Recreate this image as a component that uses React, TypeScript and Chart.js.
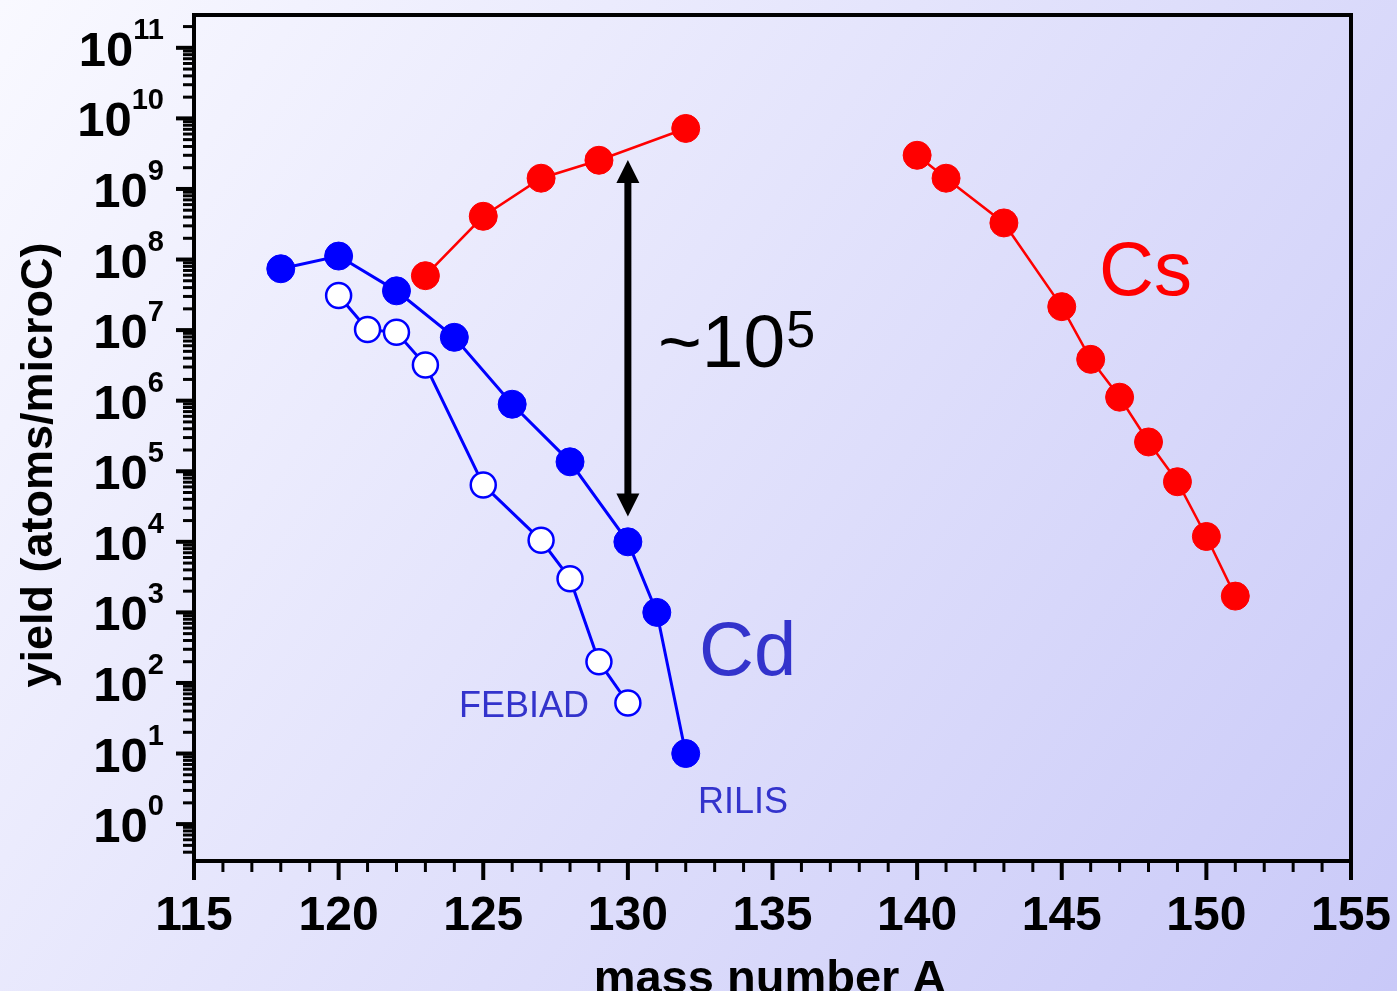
import React, { useEffect, useRef } from "react";
import { Chart, registerables } from "chart.js";

Chart.register(...registerables);

// ---- data ----
const massRilis = [118, 120, 122, 124, 126, 128, 130, 131, 132];
const yieldRilis = [7.4e7, 1.12e8, 3.6e7, 7.9e6, 8.9e5, 1.36e5, 1.0e4, 1.0e3, 10];

const massFebiad = [120, 121, 122, 123, 125, 127, 128, 129, 130];
const yieldFebiad = [3.1e7, 1.02e7, 9.3e6, 3.2e6, 6.4e4, 1.05e4, 3.0e3, 2.0e2, 52];

const massCsLight = [123, 125, 127, 129, 132];
const yieldCsLight = [5.9e7, 4.1e8, 1.42e9, 2.55e9, 7.2e9];

const massCsHeavy = [140, 141, 143, 145, 146, 147, 148, 149, 150, 151];
const yieldCsHeavy = [3.0e9, 1.42e9, 3.3e8, 2.15e7, 3.85e6, 1.12e6, 2.6e5, 7.1e4, 1.19e4, 1.7e3];

const xMajorTicks = [115, 120, 125, 130, 135, 140, 145, 150, 155];
const xMinorStep = 1;
const yDecadeExponents = [0, 1, 2, 3, 4, 5, 6, 7, 8, 9, 10, 11];

const X_MIN = 115;
const X_MAX = 155;
const Y_MIN = Math.pow(10, -0.522);
const Y_MAX = Math.pow(10, 11.465);

// arrow annotation (data units): ~10^5 gap at A = 130
const arrowX = 130;
const arrowTop = Math.pow(10, 9.41);
const arrowBottom = Math.pow(10, 4.36);

const FONT = '"Liberation Sans", Arial, sans-serif';
const CD_COLOR = "#3333cc";

const toXY = (xs: number[], ys: number[]) => xs.map((x, i) => ({ x, y: ys[i] }));

const bgPlugin = {
  id: "bgGradient",
  beforeDraw(chart: any) {
    const { ctx, width, height } = chart;
    ctx.save();
    const g = ctx.createLinearGradient(0, 0, width, height);
    g.addColorStop(0, "#f9f9ff");
    g.addColorStop(1, "#c9c9f8");
    ctx.fillStyle = g;
    ctx.fillRect(0, 0, width, height);
    ctx.restore();
  },
};

const axesPlugin = {
  id: "customAxes",
  afterDraw(chart: any) {
    const { ctx, chartArea } = chart;
    const xs = chart.scales.x;
    const ys = chart.scales.y;
    const { left: L, right: R, top: T, bottom: B } = chartArea;
    ctx.save();
    ctx.strokeStyle = "#000";
    ctx.fillStyle = "#000";

    // x ticks
    for (let v = X_MIN; v <= X_MAX; v += xMinorStep) {
      const px = xs.getPixelForValue(v);
      const major = xMajorTicks.includes(v);
      ctx.lineWidth = major ? 4 : 3;
      ctx.beginPath();
      ctx.moveTo(px, B);
      ctx.lineTo(px, B + (major ? 19 : 11));
      ctx.stroke();
    }
    // y ticks (log, minor 2..9)
    for (let d = -1; d <= 11; d++) {
      for (let m = 1; m <= 9; m++) {
        const v = m * Math.pow(10, d);
        if (v < Y_MIN || v > Y_MAX) continue;
        const py = ys.getPixelForValue(v);
        if (py < T + 2) continue;
        const major = m === 1;
        ctx.lineWidth = major ? 4 : 3;
        ctx.beginPath();
        ctx.moveTo(L, py);
        ctx.lineTo(L - (major ? 18 : 11), py);
        ctx.stroke();
      }
    }

    // frame
    ctx.lineWidth = 4;
    ctx.strokeRect(L, T, R - L, B - T);

    // x tick labels
    ctx.font = `bold 48px ${FONT}`;
    ctx.textAlign = "center";
    ctx.textBaseline = "alphabetic";
    xMajorTicks.forEach((v) => {
      ctx.fillText(String(v), xs.getPixelForValue(v), 930);
    });

    // y tick labels 10^n
    const rightEdge = 164;
    yDecadeExponents.forEach((n) => {
      const py = ys.getPixelForValue(Math.pow(10, n));
      ctx.font = `bold 29px ${FONT}`;
      const sup = String(n);
      const supW = ctx.measureText(sup).width;
      ctx.textAlign = "left";
      ctx.fillText(sup, rightEdge - supW, py - 9);
      ctx.font = `bold 49px ${FONT}`;
      ctx.textAlign = "right";
      ctx.fillText("10", rightEdge - supW, py + 18);
    });

    // axis titles
    ctx.font = `bold 45px ${FONT}`;
    ctx.textAlign = "center";
    ctx.save();
    ctx.translate(52, 465);
    ctx.rotate(-Math.PI / 2);
    ctx.fillText("yield (atoms/microC)", 0, 0);
    ctx.restore();

    ctx.font = `bold 47px ${FONT}`;
    ctx.textAlign = "center";
    ctx.fillText("mass number A", 770, 993);

    // arrow
    const ax = xs.getPixelForValue(arrowX);
    const ayT = ys.getPixelForValue(arrowTop);
    const ayB = ys.getPixelForValue(arrowBottom);
    const head = 23;
    const halfW = 11.5;
    ctx.lineWidth = 7;
    ctx.beginPath();
    ctx.moveTo(ax, ayT + head - 2);
    ctx.lineTo(ax, ayB - head + 2);
    ctx.stroke();
    ctx.beginPath();
    ctx.moveTo(ax, ayT);
    ctx.lineTo(ax - halfW, ayT + head);
    ctx.lineTo(ax + halfW, ayT + head);
    ctx.closePath();
    ctx.fill();
    ctx.beginPath();
    ctx.moveTo(ax, ayB);
    ctx.lineTo(ax - halfW, ayB - head);
    ctx.lineTo(ax + halfW, ayB - head);
    ctx.closePath();
    ctx.fill();

    // ~10^5 label
    ctx.textAlign = "left";
    ctx.font = `75px ${FONT}`;
    const base = "~10";
    ctx.fillText(base, 658, 367);
    const bw = ctx.measureText(base).width;
    ctx.font = `52px ${FONT}`;
    ctx.fillText("5", 658 + bw + 1, 347);

    // element labels
    ctx.font = `76px ${FONT}`;
    ctx.fillStyle = "#ff0000";
    ctx.fillText("Cs", 1099, 295);
    ctx.fillStyle = CD_COLOR;
    ctx.fillText("Cd", 699, 675);
    ctx.font = `36px ${FONT}`;
    ctx.fillText("FEBIAD", 459, 717);
    ctx.fillText("RILIS", 698, 813);

    ctx.restore();
  },
};

export default function App() {
  const canvasRef = useRef<HTMLCanvasElement | null>(null);

  useEffect(() => {
    const canvas = canvasRef.current;
    if (!canvas) return;
    const chart = new Chart(canvas, {
      type: "line",
      data: {
        datasets: [
          {
            label: "Cs light",
            data: toXY(massCsLight, yieldCsLight),
            borderColor: "#ff0000",
            borderWidth: 2.5,
            pointRadius: 14,
            pointBackgroundColor: "#ff0000",
            pointBorderColor: "#ff0000",
            pointBorderWidth: 1,
            tension: 0,
          },
          {
            label: "Cs heavy",
            data: toXY(massCsHeavy, yieldCsHeavy),
            borderColor: "#ff0000",
            borderWidth: 2.5,
            pointRadius: 14,
            pointBackgroundColor: "#ff0000",
            pointBorderColor: "#ff0000",
            pointBorderWidth: 1,
            tension: 0,
          },
          {
            label: "Cd FEBIAD",
            data: toXY(massFebiad, yieldFebiad),
            borderColor: "#0000ff",
            borderWidth: 3,
            pointRadius: 12.5,
            pointBackgroundColor: "#ffffff",
            pointBorderColor: "#0000ff",
            pointBorderWidth: 2.5,
            tension: 0,
          },
          {
            label: "Cd RILIS",
            data: toXY(massRilis, yieldRilis),
            borderColor: "#0000ff",
            borderWidth: 3,
            pointRadius: 14,
            pointBackgroundColor: "#0000ff",
            pointBorderColor: "#0000ff",
            pointBorderWidth: 1,
            tension: 0,
          },
        ],
      },
      options: {
        animation: false,
        responsive: false,
        devicePixelRatio: 1,
        layout: { padding: { left: 194, right: 46, top: 11, bottom: 130 } },
        scales: {
          x: { type: "linear", min: X_MIN, max: X_MAX, display: false },
          y: { type: "logarithmic", min: Y_MIN, max: Y_MAX, display: false },
        },
        plugins: {
          legend: { display: false },
          tooltip: { enabled: false },
        },
        elements: { line: { fill: false } },
      },
      plugins: [bgPlugin, axesPlugin],
    });
    return () => chart.destroy();
  }, []);

  return (
    <div style={{ position: "fixed", left: 0, top: 0, width: 1397, height: 991 }}>
      <canvas ref={canvasRef} width={1397} height={991} style={{ display: "block" }} />
    </div>
  );
}
